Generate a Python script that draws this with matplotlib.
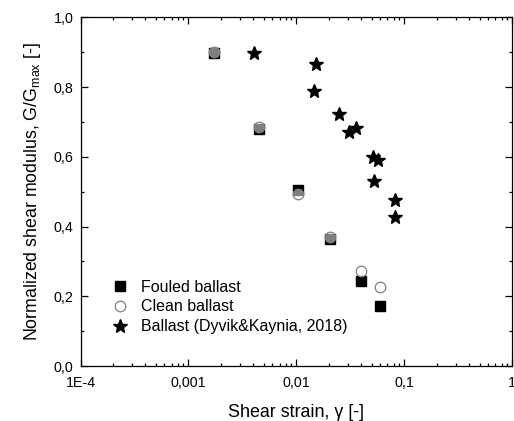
import matplotlib
matplotlib.use("Agg")
import matplotlib.pyplot as plt
from matplotlib.ticker import LogLocator, MultipleLocator, FixedLocator, FixedFormatter

plt.rcParams['font.family'] = ['Liberation Sans', 'DejaVu Sans']
plt.rcParams['mathtext.fontset'] = 'custom'
plt.rcParams['mathtext.rm'] = 'Liberation Sans'
plt.rcParams['mathtext.it'] = 'Liberation Sans:italic'

# Fouled ballast
fouled_x = [0.00172, 0.00447, 0.01045, 0.0207, 0.0402, 0.0598]
fouled_y = [0.898, 0.680, 0.506, 0.365, 0.245, 0.171]
# Clean ballast
clean_x = [0.00172, 0.00447, 0.01045, 0.0207, 0.0402, 0.0598]
clean_y = [0.900, 0.685, 0.493, 0.370, 0.272, 0.226]
# Ballast (Dyvik & Kaynia, 2018)
dk_x = [0.0041, 0.01524, 0.01449, 0.0249, 0.0310, 0.0359, 0.0513, 0.0578, 0.0524, 0.0824, 0.0824]
dk_y = [0.898, 0.865, 0.789, 0.724, 0.670, 0.683, 0.599, 0.590, 0.531, 0.475, 0.428]

xtick_vals = [1e-4, 1e-3, 1e-2, 1e-1, 1]
xtick_labels = ["1E-4", "0,001", "0,01", "0,1", "1"]
ytick_vals = [0.0, 0.2, 0.4, 0.6, 0.8, 1.0]
ytick_labels = ["0,0", "0,2", "0,4", "0,6", "0,8", "1,0"]

fig = plt.figure(figsize=(5.14, 4.21), dpi=100)
ax = fig.add_axes([80.5/514, 55/421, (512-80.5)/514, (366-17.3)/421])

ax.plot(fouled_x, fouled_y, linestyle='none', marker='s', markersize=7.0,
        color='black', markeredgecolor='black', label='Fouled ballast', zorder=3)
ax.plot(clean_x, clean_y, linestyle='none', marker='o', markersize=7.6,
        markerfacecolor=(1, 1, 1, 0.5), markeredgecolor='#808080', markeredgewidth=0.9,
        label='Clean ballast', zorder=4)
ax.plot(dk_x, dk_y, linestyle='none', marker='*', markersize=10.5,
        color='black', label='Ballast (Dyvik&Kaynia, 2018)', zorder=3)

ax.set_xscale('log')
ax.set_xlim(1e-4, 1)
ax.set_ylim(0, 1.0)

ax.xaxis.set_major_locator(FixedLocator(xtick_vals))
ax.xaxis.set_major_formatter(FixedFormatter(xtick_labels))
ax.xaxis.set_minor_locator(LogLocator(base=10, subs=range(2, 10), numticks=20))
ax.xaxis.set_minor_formatter(FixedFormatter([]))
ax.yaxis.set_major_locator(FixedLocator(ytick_vals))
ax.yaxis.set_major_formatter(FixedFormatter(ytick_labels))
ax.yaxis.set_minor_locator(MultipleLocator(0.1))

ax.tick_params(which='both', direction='in', top=True, right=True, width=0.9)
ax.tick_params(which='major', length=5, labelsize=10.3)
ax.tick_params(axis='x', which='major', pad=7)
ax.tick_params(axis='y', which='major', pad=5)
ax.tick_params(which='minor', length=2.5)
for s in ax.spines.values():
    s.set_linewidth(0.9)

ax.set_xlabel("Shear strain, \u03b3 [-]", fontsize=12.9, labelpad=10)
ax.set_ylabel("Normalized shear modulus, G/G$_\\mathregular{max}$ [-]", fontsize=12.8, labelpad=8)

leg = ax.legend(loc='lower left', bbox_to_anchor=(0.055, 0.073), frameon=False,
                fontsize=11.5, handletextpad=0.7, labelspacing=0.3, handlelength=1.2,
                borderaxespad=0)

fig.savefig("out.png", dpi=100)
